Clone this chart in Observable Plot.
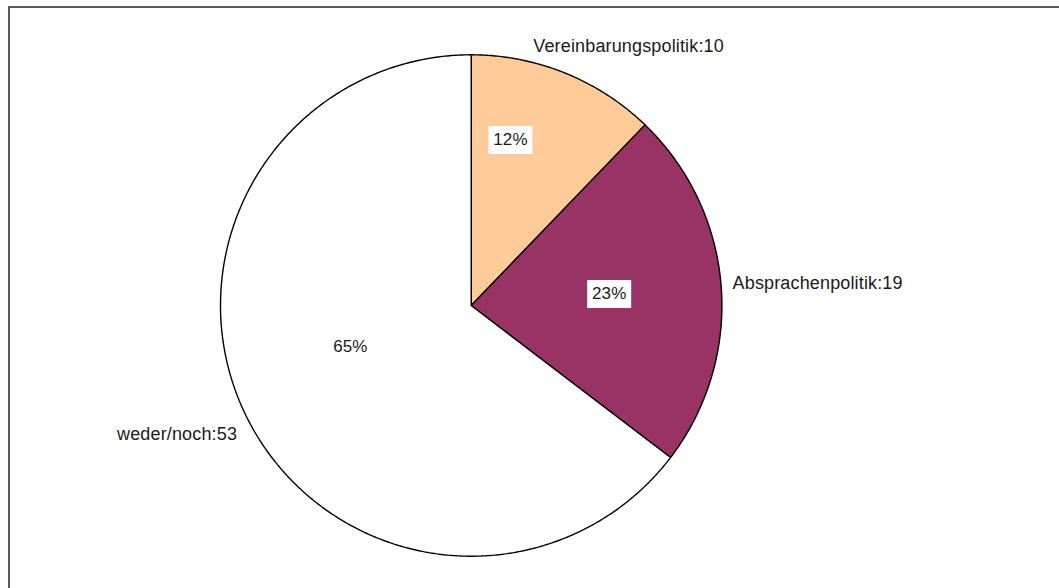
<!DOCTYPE html>
<html>
<head>
<meta charset="utf-8">
<script src="https://cdn.jsdelivr.net/npm/d3@7"></script>
<script src="https://cdn.jsdelivr.net/npm/@observablehq/plot@0.6"></script>
<style>
  html, body { margin: 0; padding: 0; background: #fff; }
  #wrap { position: relative; width: 1059px; height: 588px; overflow: hidden; }
  #frame { position: absolute; left: 8px; top: 6px; right: -4px; bottom: -4px;
           border-top: 2px solid #5a5a5a; border-left: 2px solid #5a5a5a; }
  #chart { position: absolute; left: 0; top: 0; }
  #chart svg text { letter-spacing: 0.15px; }
</style>
</head>
<body>
<div id="wrap"><div id="frame"></div><div id="chart"></div></div>
<script>
// ---- data ----
const categories = ["Vereinbarungspolitik", "Absprachenpolitik", "weder/noch"];
const values = [10, 19, 53];
const colors = ["#FFCC99", "#993366", "#FFFFFF"];

// ---- derived geometry (in unit-radius data space) ----
const total = d3.sum(values);
const pie = d3.pie().sort(null).value(d => d)(values);
const slices = pie.map((p, i) => ({
  cat: categories[i], value: values[i], a0: p.startAngle, a1: p.endAngle,
  mid: (p.startAngle + p.endAngle) / 2,
  pct: d3.format(".0%")(values[i] / total),
  label: `${categories[i]}:${values[i]}`
}));
const pts = slices.flatMap(s => {
  const n = Math.max(2, Math.ceil((s.a1 - s.a0) / (Math.PI / 360)));
  const arr = [{cat: s.cat, x: 0, y: 0}];
  for (let k = 0; k <= n; k++) {
    const a = s.a0 + (s.a1 - s.a0) * k / n;
    arr.push({cat: s.cat, x: Math.sin(a), y: Math.cos(a)});
  }
  return arr;
});

const box = { draw(ctx) { ctx.rect(-22, -14, 44, 28); } };
const font = "Liberation Sans, Arial, Helvetica, sans-serif";

function pctMarks(i, dx, dy) {
  const d = [slices[i]];
  const opt = {x: s => 0.6 * Math.sin(s.mid), y: s => 0.6 * Math.cos(s.mid), dx, dy};
  return [
    Plot.dot(d, {...opt, symbol: box, r: 10, fill: "#fff", stroke: "none"}),
    Plot.text(d, {...opt, text: "pct", fontSize: 17, fill: "#1a1a1a"})
  ];
}
function catMark(i, anchor, dx, dy) {
  return Plot.text([slices[i]], {
    x: s => 1.1 * Math.sin(s.mid), y: s => 1.1 * Math.cos(s.mid),
    text: "label", textAnchor: anchor, dx, dy,
    fontSize: 18, fill: "#1a1a1a"
  });
}

const chart = Plot.plot({
  width: 1059, height: 588,
  marginLeft: 220, marginRight: 337.6, marginTop: 54.3, marginBottom: 32.3,
  style: {fontFamily: font, background: "transparent"},
  x: {domain: [-1, 1], axis: null},
  y: {domain: [-1, 1], axis: null},
  color: {domain: categories, range: colors},
  marks: [
    Plot.line(pts, {x: "x", y: "y", z: "cat", fill: "cat", stroke: "#000",
      strokeWidth: 1.4, strokeLinejoin: "miter", curve: "linear-closed"}),
    ...pctMarks(0, -17, -26),
    ...pctMarks(1, -12, 0),
    ...pctMarks(2, 14, -26),
    catMark(0, "start", -41, -3),
    catMark(1, "start", -13.6, -1),
    catMark(2, "end", 13, 6)
  ]
});
document.getElementById("chart").appendChild(chart);
</script>
</body>
</html>
